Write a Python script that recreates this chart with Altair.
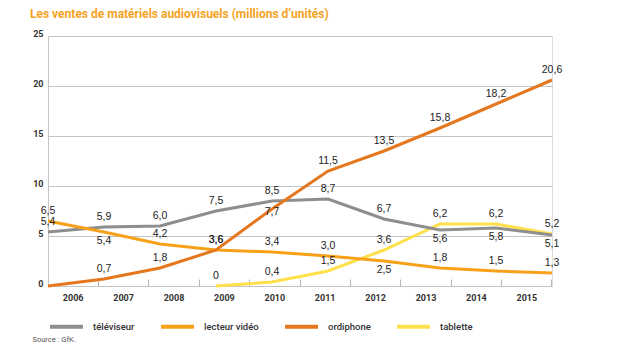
import altair as alt
import pandas as pd

YEARS = [2006, 2007, 2008, 2009, 2010, 2011, 2012, 2013, 2014, 2015]
SERIES = ["téléviseur", "lecteur vidéo", "ordiphone", "tablette"]
TELEVISEUR = [5.4, 5.9, 6.0, 7.5, 8.5, 8.7, 6.7, 5.6, 5.8, 5.1]
LECTEUR_VIDEO = [6.5, 5.4, 4.2, 3.6, 3.4, 3.0, 2.5, 1.8, 1.5, 1.3]
ORDIPHONE = [0.0, 0.7, 1.8, 3.6, 7.7, 11.5, 13.5, 15.8, 18.2, 20.6]
TABLETTE = [None, None, None, 0.0, 0.4, 1.5, 3.6, 6.2, 6.2, 5.2]
COLORS = ["#8E8E8E", "#F7A11A", "#E5771E", "#FFE04A"]
Y_TICKS = [0, 5, 10, 15, 20, 25]

# label placement (style): default above the point
LABELS_BELOW = [("téléviseur", 2013), ("téléviseur", 2014), ("téléviseur", 2015),
                ("lecteur vidéo", 2007), ("lecteur vidéo", 2012)]
LABELS_ON = [("ordiphone", 2010)]
LABELS_HIDDEN = [("ordiphone", 2006)]

# drawing order (bottom to top)
DRAW_ORDER = ["tablette", "téléviseur", "lecteur vidéo", "ordiphone"]

values = {"téléviseur": TELEVISEUR, "lecteur vidéo": LECTEUR_VIDEO,
          "ordiphone": ORDIPHONE, "tablette": TABLETTE}
rows = []
for s in DRAW_ORDER:
    for y, v in zip(YEARS, values[s]):
        if v is None:
            continue
        key = (s, y)
        pos = "below" if key in LABELS_BELOW else ("on" if key in LABELS_ON else
              ("hidden" if key in LABELS_HIDDEN else "above"))
        rows.append({"serie": s, "annee": y, "annee_lbl": str(y), "valeur": v, "pos": pos})
df = pd.DataFrame(rows)

FONT = "Roboto"
LABEL_FONT = "Liberation Sans"

x_q = alt.X("annee:Q", scale=alt.Scale(domain=[YEARS[0], YEARS[-1]], nice=False, zero=False), axis=None)
y_q = alt.Y("valeur:Q", scale=alt.Scale(domain=[0, 25], nice=False),
            axis=alt.Axis(values=Y_TICKS, grid=True, gridColor="#C4C4C4", gridWidth=1,
                          domain=True, domainColor="#C4C4C4", ticks=False, labelPadding=5,
                          labelFont=FONT, labelFontWeight="bold", labelFontSize=9,
                          labelColor="#333333", labelOffset=-3, title=None))
color = alt.Color("serie:N", scale=alt.Scale(domain=SERIES, range=COLORS),
                  legend=alt.Legend(title=None, orient="none", legendX=0, legendY=272,
                                    direction="horizontal", symbolType="stroke",
                                    symbolStrokeWidth=4, symbolSize=1089,
                                    labelFont=FONT, labelFontSize=9.5, labelFontWeight=500,
                                    labelColor="#333333", labelOffset=8, columnPadding=18))

base = alt.Chart(df)

axis_layer = base.mark_point(opacity=0).encode(
    x=alt.X("annee_lbl:O", sort=[str(y) for y in YEARS],
            scale=alt.Scale(type="band", paddingInner=0, paddingOuter=0),
            axis=alt.Axis(orient="bottom", offset=-7, tickSize=7, tickColor="#B5B5B5",
                          tickWidth=1, domain=False, bandPosition=1, tickExtra=True,
                          labelPadding=7, labelAngle=0, labelFont=FONT,
                          labelFontWeight="bold", labelFontSize=9, labelColor="#333333",
                          title="Source : GfK.", titleFont=FONT, titleFontSize=7.5,
                          titleFontWeight="normal", titleColor="#555555",
                          titleX=-16, titleY=60, titleAlign="left", titleBaseline="middle")),
)

lines = base.mark_line(strokeWidth=3).encode(
    x=x_q, y=y_q, color=color, detail="serie:N", order=alt.Order("annee:Q"))

txt_common = dict(fontSize=10.5, font=LABEL_FONT, color="#222222", baseline="middle")
labels_expr = "datum.valeur == 0 ? '0' : replace(format(datum.valeur, '.1f'), '.', ',')"

lbl_above = base.transform_filter("datum.pos == 'above'").transform_calculate(
    lbl=labels_expr).mark_text(dy=-10, **txt_common).encode(x=x_q, y=y_q, text="lbl:N")
lbl_below = base.transform_filter("datum.pos == 'below'").transform_calculate(
    lbl=labels_expr).mark_text(dy=9, **txt_common).encode(x=x_q, y=y_q, text="lbl:N")
lbl_on = base.transform_filter("datum.pos == 'on'").transform_calculate(
    lbl=labels_expr).mark_text(dy=3, **txt_common).encode(x=x_q, y=y_q, text="lbl:N")

chart = alt.layer(axis_layer, lines, lbl_above, lbl_below, lbl_on).resolve_scale(
    x="independent"
).properties(
    width=504, height=250,
    padding={"left": 48, "top": 36, "right": 68, "bottom": 64},
    autosize=alt.AutoSizeParams(type="none"),
    title=alt.TitleParams("Les ventes de matériels audiovisuels (millions d’unités)",
                          anchor="start", dx=-2, offset=8, fontSize=12,
                          font=FONT, fontWeight="bold", color="#F5A21E"),
).configure_view(stroke=None).configure(background="white")

chart.save("out.html", embed_options={"renderer": "svg", "actions": False})
